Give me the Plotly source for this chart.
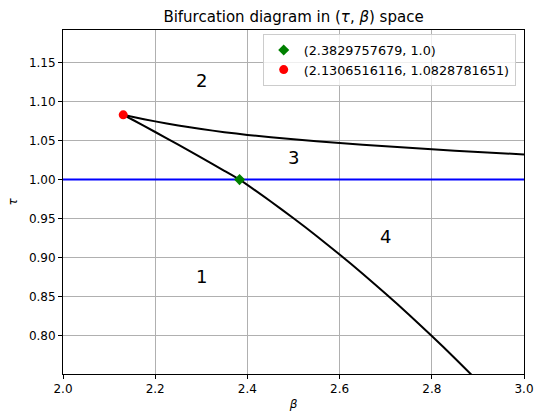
import plotly.graph_objects as go

# ---- data ----
# upper branch (boundary between regions 2 and 3)
upper_beta = [2.1306516116, 2.15, 2.2, 2.25, 2.3, 2.35, 2.4, 2.5, 2.6, 2.7, 2.8, 2.9, 3.0]
upper_tau = [1.0828781651, 1.0803, 1.0745, 1.0693, 1.0647, 1.0607, 1.0572,
             1.0515, 1.0469, 1.0426, 1.0387, 1.0353, 1.0322]

# lower branch (boundary between regions 1/2 and 3/4)
lower_beta = [2.1306516116, 2.15, 2.2, 2.25, 2.3, 2.35, 2.3829757679, 2.45, 2.5,
              2.55, 2.6, 2.65, 2.7, 2.75, 2.8, 2.85, 2.9]
lower_tau = [1.0828781651, 1.0769, 1.0609, 1.0447, 1.0281, 1.0113, 1.0, 0.9723, 0.9506,
             0.9279, 0.9042, 0.8796, 0.8540, 0.8275, 0.8000, 0.7715, 0.7421]

# critical delay line tau = 1
line_beta = [2.0, 3.0]
line_tau = [1.0, 1.0]

# special points
diamond_beta = [2.3829757679]
diamond_tau = [1.0]
cusp_beta = [2.1306516116]
cusp_tau = [1.0828781651]

# region labels
region_text = ["1", "2", "3", "4"]
region_beta = [2.3, 2.3, 2.5, 2.7]
region_tau = [0.876, 1.127, 1.028, 0.927]

x_ticks = [2.0, 2.2, 2.4, 2.6, 2.8, 3.0]
y_ticks = [0.80, 0.85, 0.90, 0.95, 1.00, 1.05, 1.10, 1.15]

FONT = "DejaVu Sans"

fig = go.Figure()
fig.add_trace(go.Scatter(x=upper_beta, y=upper_tau, mode="lines",
                         line=dict(color="black", width=2, shape="spline", smoothing=0.6),
                         showlegend=False, hoverinfo="skip"))
fig.add_trace(go.Scatter(x=lower_beta, y=lower_tau, mode="lines",
                         line=dict(color="black", width=2, shape="spline", smoothing=0.6),
                         showlegend=False, hoverinfo="skip"))
fig.add_trace(go.Scatter(x=line_beta, y=line_tau, mode="lines",
                         line=dict(color="#0000ff", width=2),
                         showlegend=False, hoverinfo="skip"))
fig.add_trace(go.Scatter(x=diamond_beta, y=diamond_tau, mode="markers",
                         marker=dict(symbol="diamond", size=8.5, color="green"),
                         name=f"({diamond_beta[0]}, {diamond_tau[0]})"))
fig.add_trace(go.Scatter(x=cusp_beta, y=cusp_tau, mode="markers",
                         marker=dict(symbol="circle", size=9, color="red"),
                         name=f"({cusp_beta[0]}, {cusp_tau[0]})"))

for t, bx, ty in zip(region_text, region_beta, region_tau):
    fig.add_annotation(x=bx, y=ty, text=t, showarrow=False,
                       xanchor="center", yanchor="middle",
                       font=dict(family=FONT, size=18, color="black"))

fig.update_layout(
    width=535, height=412,
    margin=dict(l=63, r=11, t=30, b=38, autoexpand=False),
    paper_bgcolor="white", plot_bgcolor="white",
    font=dict(family=FONT, size=12, color="black"),
    title=dict(text="Bifurcation diagram in (<i>τ</i>, <i>β</i>) space",
               x=(63 + (535 - 11)) / 2 / 535, xanchor="center",
               y=1 - 16.5 / 412, yanchor="middle", yref="container",
               font=dict(family=FONT, size=15, color="black")),
    legend=dict(x=0.982, y=0.988, xanchor="right", yanchor="top",
                bgcolor="rgba(255,255,255,0.8)", bordercolor="#cccccc",
                borderwidth=1, font=dict(family=FONT, size=12.8),
                tracegroupgap=0),
    showlegend=True,
)
fig.update_xaxes(range=[2.0, 3.0], tickvals=x_ticks, tickformat=".1f",
                 showgrid=True, gridcolor="#b0b0b0", gridwidth=1,
                 showline=True, linecolor="black", linewidth=1, mirror=True,
                 ticks="outside", ticklen=4, tickcolor="black",
                 zeroline=False, automargin=False,
                 title=dict(text="<i>β</i>", standoff=4,
                            font=dict(family=FONT, size=12)))
fig.update_yaxes(range=[0.7513, 1.1914], tickvals=y_ticks, tickformat=".2f",
                 showgrid=True, gridcolor="#b0b0b0", gridwidth=1,
                 showline=True, linecolor="black", linewidth=1, mirror=True,
                 ticks="outside", ticklen=4, tickcolor="black",
                 zeroline=False, automargin=False,
                 title=dict(text="<i>τ</i>", standoff=8,
                            font=dict(family=FONT, size=12)))

fig.write_html("out.html",
               config={"displayModeBar": False},
               post_script="document.body.style.margin='0';document.body.style.padding='0';")
